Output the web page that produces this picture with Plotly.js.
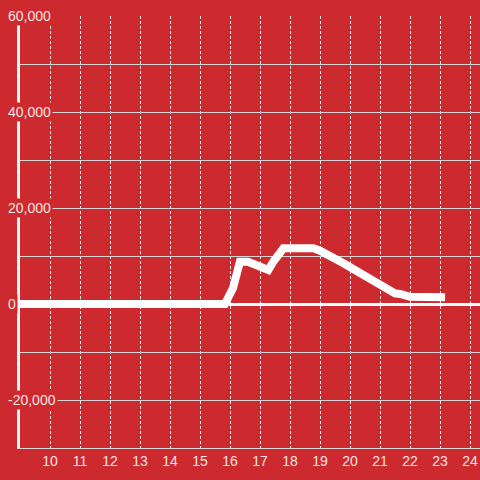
<!DOCTYPE html>
<html>
<head>
<meta charset="utf-8">
<script src="https://cdn.plot.ly/plotly-3.0.1.min.js"></script>
<style>html,body{margin:0;padding:0;background:#cd2a2f;}#chart{width:480px;height:480px;}</style>
</head>
<body>
<div id="chart"></div>
<script>
// Hour of day (x) and value (y)
const hours  = [9, 15.83, 16.1, 16.33, 16.6, 17.28, 17.44, 17.78, 18.78, 19.0, 19.78, 20.67, 21.06, 21.5, 21.67, 22.0, 23.17];
const values = [0, 0, 3300, 8800, 8800, 7100, 8800, 11600, 11600, 11100, 8500, 5350, 3960, 2200, 2100, 1500, 1400];
const xTickValues = [10, 11, 12, 13, 14, 15, 16, 17, 18, 19, 20, 21, 22, 23, 24];
const yTickValues = [-20000, 0, 20000, 40000, 60000];
const yTickLabels = ['-20,000', '0', '20,000', '40,000', '60,000'];

const bg = '#cd2a2f';
const labelFont = {family: 'Liberation Sans, Arial, sans-serif', size: 14, color: '#f6e4e4'};

const annotations = yTickValues.map((v, i) => ({
  xref: 'paper', yref: 'y', x: -0.03, y: v,
  xanchor: 'left', yanchor: 'middle',
  text: yTickLabels[i], showarrow: false,
  font: labelFont, bgcolor: bg, borderpad: 1
}));

const trace = {
  x: hours, y: values, type: 'scatter', mode: 'lines',
  line: {color: '#ffffff', width: 8},
  hoverinfo: 'skip'
};

const layout = {
  width: 480, height: 480,
  margin: {l: 20, r: 0, t: 16, b: 32},
  paper_bgcolor: bg, plot_bgcolor: bg,
  showlegend: false,
  xaxis: {
    range: [9, 24.333], tickmode: 'array', tickvals: xTickValues,
    ticktext: xTickValues.map(String),
    showgrid: true, gridcolor: '#f0e6e6', gridwidth: 1, griddash: '3px,2px',
    showline: true, linecolor: '#d8d8d8', linewidth: 1,
    zeroline: false, ticks: '', tickfont: labelFont
  },
  yaxis: {
    range: [-30000, 60000], dtick: 10000, tick0: 0,
    showgrid: true, gridcolor: '#d4d4d4', gridwidth: 1,
    showline: true, linecolor: '#f4f4f4', linewidth: 3,
    zeroline: true, zerolinecolor: '#ffffff', zerolinewidth: 3,
    showticklabels: false, ticks: ''
  },
  annotations: annotations
};

Plotly.newPlot('chart', [trace], layout, {displayModeBar: false, staticPlot: true});
</script>
</body>
</html>
